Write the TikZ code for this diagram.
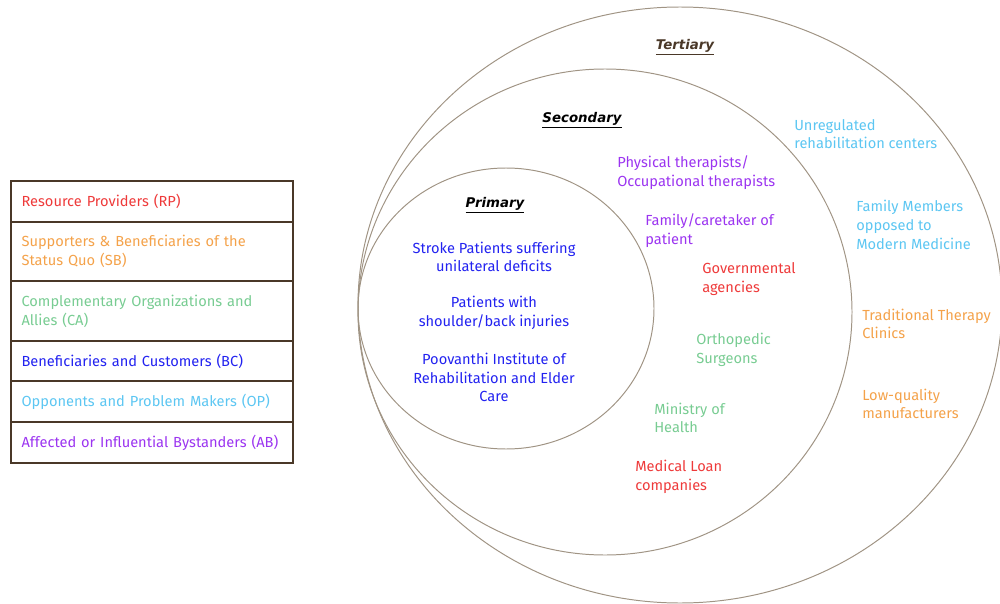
\documentclass[tikz,border=0pt]{standalone}
\usepackage{fontspec}
\setmainfont{Fira Sans}
\newfontfamily\headfont{DejaVu Sans}
\usetikzlibrary{positioning}
\definecolor{rpred}{HTML}{EE3A3A}
\definecolor{sborange}{HTML}{F4A24A}
\definecolor{cagreen}{HTML}{78CC92}
\definecolor{bcblue}{HTML}{2222F0}
\definecolor{oplight}{HTML}{5CC6F2}
\definecolor{abpurple}{HTML}{9B34F0}
\definecolor{boxbrown}{HTML}{4A3828}
\definecolor{ringgrey}{HTML}{A09484}
\tikzset{
  stake/.style={
    font=\fontsize{10.4}{13.3}\selectfont,
    align=left,
    inner sep=0pt,
    anchor=west},
  legend/.style={
    rectangle,
    draw=boxbrown, line width=1.4pt,
    minimum width=200.6pt,
    text width=185.6pt,
    inner xsep=7.5pt,
    align=left,
    font=\fontsize{10.4}{13.3}\selectfont},
  ring/.style={draw=ringgrey, line width=0.7pt},
  heading/.style={font=\headfont\bfseries\itshape\fontsize{9.5}{12}\selectfont},
}

\begin{document}
\begin{tikzpicture}[x=0.025cm,y=-0.025cm]
	\useasboundingbox (0,0) rectangle (1000,604);

	% the three rings
	\draw[ring] (680,305) ellipse [x radius=322, y radius=298];
	\draw[ring] (605,312) ellipse [x radius=247, y radius=243];
	\draw[ring] (506,308.5) ellipse [x radius=148, y radius=140.5];

	\node[heading, text=boxbrown] (tert) at (685,47) {\underline{Tertiary}};
	\node[heading] (sec) at (582,120) {\underline{Secondary}};
	\node[heading] (prim) at (495,205) {\underline{Primary}};

	% primary
	\node[stake, anchor=center, align=center, text=bcblue] (stroke) at (494,257)
		{Stroke Patients suffering\\unilateral deficits};
	\node[stake, anchor=center, align=center, text=bcblue] (injury) at (494,313)
		{Patients with\\shoulder/back injuries};
	\node[stake, anchor=center, align=center, text=bcblue] (poov) at (494,377.5)
		{Poovanthi Institute of\\Rehabilitation and Elder\\Care};

	% secondary
	\node[stake, text=abpurple] (phys) at (617,173) {Physical therapists/\\Occupational therapists};
	\node[stake, text=abpurple] (carer) at (645,231) {Family/caretaker of\\patient};
	\node[stake, text=rpred] (gov) at (702,279) {Governmental\\agencies};
	\node[stake, text=cagreen] (ortho) at (696,350) {Orthopedic\\Surgeons};
	\node[stake, text=cagreen] (moh) at (654,418) {Ministry of\\Health};
	\node[stake, text=rpred] (loan) at (635,476.5) {Medical Loan\\companies};

	% tertiary
	\node[stake, text=oplight] (unreg) at (794,134) {Unregulated\\rehabilitation centers};
	\node[stake, text=oplight] (famopp) at (856,225) {Family Members\\opposed to\\Modern Medicine};
	\node[stake, text=sborange] (trad) at (862,324) {Traditional Therapy\\Clinics};
	\node[stake, text=sborange] (lowq) at (862,404) {Low-quality\\manufacturers};

	% legend
	\node[legend, anchor=north west, minimum height=29.2pt, text=rpred] (rp) at (10,180)
		{Resource Providers (RP)};
	\node[legend, below=-1.4pt of rp, minimum height=42pt, text=sborange] (sb)
		{Supporters \& Beneficiaries of the\\Status Quo (SB)};
	\node[legend, below=-1.4pt of sb, minimum height=42.7pt, text=cagreen] (ca)
		{Complementary Organizations and\\Allies (CA)};
	\node[legend, below=-1.4pt of ca, minimum height=28.5pt, text=bcblue] (bc)
		{Beneficiaries and Customers (BC)};
	\node[legend, below=-1.4pt of bc, minimum height=29.2pt, text=oplight] (op)
		{Opponents and Problem Makers (OP)};
	\node[legend, below=-1.4pt of op, minimum height=29.2pt, text=abpurple] (ab)
		{Affected or Influential Bystanders (AB)};
\end{tikzpicture}
\end{document}
